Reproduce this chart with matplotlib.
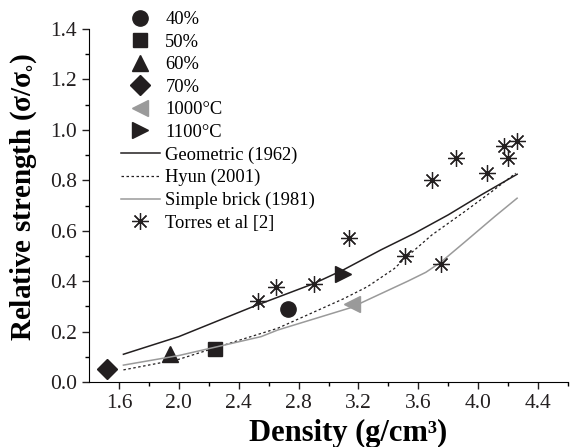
import matplotlib
matplotlib.use('Agg')
import matplotlib.pyplot as plt
import numpy as np

plt.rcParams['font.family'] = ['Liberation Serif', 'DejaVu Serif']
plt.rcParams['mathtext.fontset'] = 'stix'
plt.rcParams['mathtext.default'] = 'regular'

# measured samples (density, relative strength)
p40_x, p40_y = [2.73], [0.29]
p50_x, p50_y = [2.24], [0.13]
p60_x, p60_y = [1.94], [0.11]
p70_x, p70_y = [1.52], [0.05]
t1000_x, t1000_y = [3.16], [0.31]
t1100_x, t1100_y = [3.10], [0.43]

# Torres et al [2]
torres_x = [2.53, 2.65, 2.90, 3.14, 3.51, 3.69, 3.75, 3.85, 4.06, 4.17, 4.20, 4.26]
torres_y = [0.32, 0.375, 0.39, 0.57, 0.50, 0.80, 0.47, 0.89, 0.83, 0.935, 0.89, 0.955]

# model curves
geo_x = [1.63, 2.0, 2.5, 2.9, 3.1, 3.35, 3.575, 3.8, 4.02, 4.26]
geo_y = [0.11, 0.18, 0.30, 0.39, 0.445, 0.524, 0.59, 0.663, 0.742, 0.824]
hyun_x = [1.63, 2.0, 2.4, 2.66, 3.1, 3.26, 3.44, 3.51, 3.69, 3.91, 4.09, 4.25]
hyun_y = [0.048, 0.09, 0.165, 0.213, 0.33, 0.378, 0.45, 0.49, 0.583, 0.676, 0.755, 0.828]
brick_x = [1.63, 2.0, 2.55, 2.66, 3.15, 3.53, 3.65, 3.75, 3.91, 4.11, 4.26]
brick_y = [0.067, 0.105, 0.18, 0.206, 0.295, 0.40, 0.435, 0.475, 0.555, 0.656, 0.729]

dark = '#231f20'
grey = '#9a9a9a'

fig = plt.figure(figsize=(5.73, 4.47), dpi=100)
ax = fig.add_axes([0.1553, 0.1454, 0.836, 0.7897])

ax.plot(p40_x, p40_y, 'o', color=dark, ms=11, label='40%')
ax.plot(p50_x, p50_y, 's', color=dark, ms=10.5, label='50%')
ax.plot(p60_x, p60_y, '^', color=dark, ms=12, label='60%')
ax.plot(p70_x, p70_y, 'D', color=dark, ms=10, label='70%')
ax.plot(t1000_x, t1000_y, '<', color=grey, ms=12, label='1000°C')
ax.plot(t1100_x, t1100_y, '>', color=dark, ms=12, label='1100°C')
ax.plot(geo_x, geo_y, '-', color=dark, lw=1.1, label='Geometric (1962)')
ax.plot(hyun_x, hyun_y, '--', color=dark, lw=0.9, dashes=(2, 2), label='Hyun (2001)')
ax.plot(brick_x, brick_y, '-', color=grey, lw=1.1, label='Simple brick (1981)')
ax.plot(torres_x, torres_y, ls='none', marker=(8, 2, 0), color=dark, ms=12,
        mew=0.9, label='Torres et al [2]')

ax.set_xlim(1.4, 4.6)
ax.set_ylim(0, 1.4)
ax.set_xticks(np.arange(1.6, 4.41, 0.4))
ax.set_xticks(np.arange(1.8, 4.61, 0.4), minor=True)
ax.set_yticks(np.arange(0, 1.41, 0.2))
ax.set_yticks(np.arange(0.1, 1.41, 0.2), minor=True)
ax.xaxis.set_major_formatter(matplotlib.ticker.FormatStrFormatter('%.1f'))
ax.yaxis.set_major_formatter(matplotlib.ticker.FormatStrFormatter('%.1f'))
ax.spines['top'].set_visible(False)
ax.spines['right'].set_visible(False)
ax.tick_params(which='major', direction='out', length=5, width=1, labelsize=15.5,
               colors='#231f20')
ax.tick_params(which='minor', direction='out', length=3, width=1)

ax.set_xlabel('Density (g/cm³)', fontsize=22, fontweight='bold')
ax.set_ylabel(r'Relative strength ($\sigma/\sigma_{\circ}$)', fontsize=21,
              fontweight='bold')
ax.xaxis.set_label_coords(0.54, -0.105)
ax.yaxis.set_label_coords(-0.105, 0.525)

ax.legend(loc='upper left', bbox_to_anchor=(121 / 573, 1 - 11 / 447),
          bbox_transform=fig.transFigure, frameon=False, fontsize=13.3,
          borderpad=0, borderaxespad=0, handlelength=2.1, handletextpad=0.3,
          labelspacing=0.3, numpoints=1)

fig.savefig('out.png', dpi=100)
